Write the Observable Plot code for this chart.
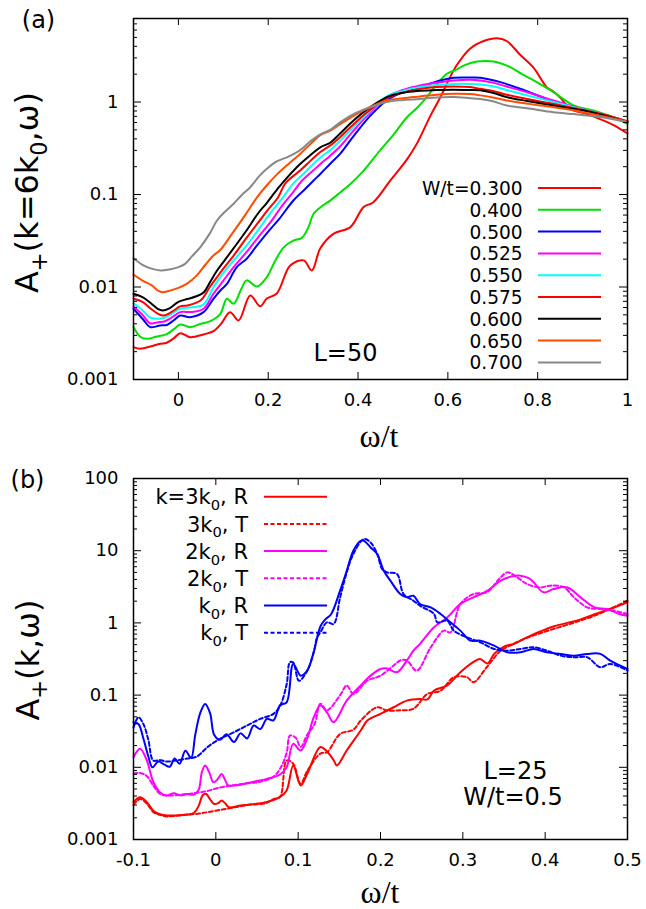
<!DOCTYPE html>
<html><head><meta charset="utf-8">
<script src="https://cdn.jsdelivr.net/npm/d3@7"></script>
<script src="https://cdn.jsdelivr.net/npm/@observablehq/plot@0.6"></script>
<style>
html,body{margin:0;padding:0;background:#fff;overflow:hidden;}
#wrap{width:646px;height:909px;}
#wrap svg{display:block;}
</style></head><body><div id="wrap"></div>
<script>
// ===== Panel (a): A+(k=6k0, ω) vs ω/t, L=50 =====
const x300 = [-0.1,-0.085,-0.06,-0.041,-0.026,-0.01,0.004,0.026,0.056,0.078,0.095,0.115,0.134,0.16,0.182,0.197,0.219,0.249,0.279,0.297,0.316,0.345,0.383,0.412,0.434,0.472,0.509,0.531,0.561,0.583,0.598,0.62,0.65,0.68,0.709,0.731,0.761,0.791,0.82,0.835,0.85,0.872,0.91,0.947,0.97,1.0];
const a300 = [0.00224,0.00215,0.00229,0.00243,0.0025,0.0028,0.00317,0.00287,0.00307,0.00333,0.004,0.00535,0.00435,0.0081,0.0062,0.0075,0.0085,0.0171,0.0194,0.0151,0.0263,0.0376,0.0444,0.073,0.0826,0.142,0.24,0.355,0.708,1.12,1.585,2.51,3.8,4.57,4.9,4.57,3.24,2.34,1.45,1.3,1.12,0.85,0.74,0.63,0.56,0.457];
const x400 = [-0.1,-0.085,-0.07,-0.05,-0.026,-0.01,0.004,0.026,0.05,0.071,0.093,0.108,0.123,0.14,0.152,0.175,0.197,0.215,0.235,0.256,0.275,0.29,0.301,0.32,0.338,0.36,0.383,0.412,0.449,0.48,0.509,0.53,0.553,0.575,0.598,0.62,0.635,0.665,0.702,0.739,0.765,0.791,0.835,0.88,0.924,0.969,1.0];
const a400 = [0.0037,0.0029,0.00275,0.0029,0.0031,0.0035,0.00394,0.00368,0.004,0.00428,0.0051,0.00746,0.00659,0.0095,0.0118,0.0101,0.0128,0.019,0.027,0.0318,0.034,0.045,0.062,0.075,0.086,0.105,0.13,0.18,0.3,0.45,0.685,0.85,1.13,1.55,2.02,2.25,2.48,2.74,2.74,2.38,2.0,1.71,1.28,0.92,0.81,0.685,0.58];
const x500 = [-0.1,-0.078,-0.063,-0.041,-0.026,-0.01,0.004,0.026,0.056,0.078,0.095,0.108,0.13,0.152,0.175,0.2,0.225,0.256,0.28,0.301,0.316,0.338,0.36,0.39,0.427,0.464,0.5,0.538,0.583,0.613,0.65,0.672,0.7,0.717,0.761,0.82,0.865,0.91,0.954,1.0];
const a500 = [0.00582,0.00443,0.00368,0.00384,0.00389,0.00437,0.00492,0.00472,0.00535,0.00746,0.00933,0.0108,0.0164,0.0202,0.0282,0.0398,0.055,0.0861,0.112,0.142,0.167,0.215,0.275,0.427,0.708,1.04,1.28,1.45,1.71,1.83,1.84,1.83,1.72,1.64,1.39,1.08,0.895,0.809,0.714,0.605];
const x525 = [-0.1,-0.08,-0.063,-0.045,-0.03,-0.015,0.004,0.03,0.056,0.078,0.1,0.123,0.152,0.178,0.208,0.231,0.256,0.275,0.3,0.316,0.338,0.36,0.39,0.42,0.464,0.5,0.538,0.575,0.613,0.65,0.672,0.7,0.731,0.78,0.835,0.88,0.91,0.95,1.0];
const a525 = [0.00617,0.00501,0.00406,0.00417,0.00427,0.00468,0.00535,0.00537,0.00582,0.00845,0.0117,0.0164,0.024,0.0347,0.0525,0.0759,0.107,0.141,0.182,0.214,0.263,0.331,0.49,0.708,1.13,1.35,1.51,1.62,1.71,1.74,1.71,1.62,1.47,1.26,1.04,0.891,0.813,0.724,0.617];
const x550 = [-0.1,-0.08,-0.063,-0.045,-0.03,-0.015,0.004,0.03,0.056,0.078,0.095,0.12,0.152,0.178,0.208,0.23,0.256,0.28,0.316,0.338,0.36,0.39,0.42,0.464,0.5,0.538,0.575,0.613,0.65,0.672,0.7,0.731,0.78,0.835,0.88,0.91,0.95,1.0];
const a550 = [0.00668,0.00562,0.00468,0.00453,0.00468,0.00513,0.00582,0.00603,0.00647,0.00995,0.0132,0.0186,0.0282,0.0417,0.0661,0.0891,0.132,0.17,0.251,0.302,0.38,0.537,0.741,1.15,1.32,1.45,1.53,1.57,1.57,1.55,1.48,1.35,1.17,1.0,0.881,0.813,0.724,0.617];
const x575 = [-0.1,-0.08,-0.063,-0.045,-0.033,-0.015,0.004,0.02,0.049,0.07,0.085,0.1,0.123,0.15,0.178,0.197,0.222,0.238,0.271,0.295,0.316,0.338,0.36,0.39,0.42,0.464,0.5,0.538,0.575,0.613,0.65,0.672,0.7,0.731,0.78,0.835,0.88,0.91,0.95,1.0];
const a575 = [0.00746,0.00692,0.00589,0.00513,0.00492,0.00537,0.00617,0.00631,0.00714,0.01,0.0126,0.0158,0.0219,0.0331,0.0501,0.0661,0.0933,0.132,0.182,0.234,0.288,0.339,0.417,0.575,0.776,1.10,1.26,1.38,1.45,1.47,1.45,1.39,1.32,1.20,1.07,0.955,0.861,0.804,0.724,0.617];
const x600 = [-0.1,-0.08,-0.06,-0.045,-0.035,-0.02,0.0,0.02,0.04,0.056,0.07,0.085,0.1,0.123,0.15,0.178,0.197,0.222,0.245,0.271,0.295,0.316,0.338,0.36,0.39,0.42,0.464,0.5,0.538,0.575,0.613,0.65,0.672,0.7,0.731,0.78,0.835,0.88,0.91,0.95,1.0];
const a600 = [0.00845,0.00776,0.0066,0.00575,0.00557,0.00589,0.00692,0.00741,0.00794,0.00871,0.0112,0.0148,0.0186,0.0263,0.0398,0.0631,0.0813,0.117,0.158,0.214,0.269,0.324,0.363,0.457,0.631,0.832,1.13,1.26,1.32,1.35,1.36,1.35,1.34,1.26,1.13,1.02,0.918,0.841,0.794,0.708,0.61];
const x650 = [-0.1,-0.08,-0.06,-0.045,-0.035,-0.02,0.0,0.02,0.04,0.06,0.078,0.093,0.12,0.149,0.175,0.197,0.22,0.245,0.271,0.295,0.316,0.338,0.36,0.39,0.42,0.464,0.5,0.538,0.575,0.613,0.65,0.672,0.7,0.731,0.78,0.835,0.88,0.91,0.95,1.0];
const a650 = [0.01365,0.01175,0.01047,0.00912,0.00879,0.00912,0.00977,0.01096,0.0132,0.0174,0.0219,0.0251,0.038,0.0603,0.0933,0.126,0.166,0.214,0.275,0.355,0.437,0.49,0.575,0.708,0.851,1.04,1.10,1.15,1.20,1.23,1.22,1.18,1.12,1.04,0.955,0.879,0.813,0.759,0.692,0.617];
const x700 = [-0.1,-0.08,-0.06,-0.04,-0.02,0.0,0.015,0.03,0.049,0.07,0.086,0.105,0.123,0.14,0.16,0.18,0.197,0.22,0.245,0.271,0.295,0.316,0.338,0.36,0.39,0.42,0.464,0.5,0.538,0.575,0.613,0.65,0.672,0.7,0.731,0.78,0.835,0.88,0.91,0.95,1.0];
const a700 = [0.0205,0.0174,0.0158,0.0151,0.0155,0.0164,0.0178,0.0214,0.027,0.038,0.0524,0.066,0.0794,0.0977,0.12,0.158,0.19,0.229,0.257,0.302,0.38,0.447,0.5,0.603,0.741,0.851,1.0,1.05,1.08,1.12,1.13,1.10,1.08,1.02,0.918,0.851,0.776,0.741,0.714,0.676,0.603];

const labelsA = ["W/t=0.300","0.400","0.500","0.525","0.550","0.575","0.600","0.650","0.700"];
const xTicksA = [0, 0.2, 0.4, 0.6, 0.8, 1];
const yTicksA = [0.001, 0.01, 0.1, 1];

// ===== Panel (b): A+(k, ω) vs ω/t, L=25, W/t=0.5 =====
const xk3R = [-0.1,-0.092,-0.084,-0.076,-0.068,-0.059,-0.04,-0.027,-0.021,-0.016,-0.012,-0.007,-0.002,0.003,0.007,0.011,0.016,0.03,0.046,0.062,0.078,0.086,0.094,0.103,0.111,0.127,0.135,0.143,0.147,0.159,0.176,0.184,0.2,0.216,0.232,0.248,0.257,0.265,0.281,0.297,0.313,0.321,0.33,0.338,0.35,0.362,0.378,0.394,0.41,0.427,0.443,0.46,0.48,0.5];
const ak3R = [0.00329,0.00386,0.00331,0.00251,0.00224,0.00215,0.00219,0.00232,0.0029,0.0041,0.0043,0.0036,0.0031,0.0032,0.00347,0.0032,0.0028,0.00295,0.00309,0.00331,0.00389,0.00479,0.0106,0.0056,0.00813,0.0191,0.0166,0.0126,0.0106,0.0171,0.0323,0.0444,0.055,0.0679,0.0839,0.0885,0.0871,0.116,0.136,0.207,0.288,0.316,0.275,0.372,0.468,0.513,0.631,0.759,0.891,1.0,1.12,1.32,1.58,1.93];
const xk3T = [-0.1,-0.092,-0.084,-0.076,-0.068,-0.059,-0.04,-0.02,0.0,0.02,0.04,0.06,0.07,0.078,0.086,0.094,0.103,0.111,0.127,0.135,0.151,0.167,0.176,0.196,0.208,0.224,0.24,0.257,0.273,0.289,0.305,0.313,0.329,0.346,0.36,0.375,0.4,0.42,0.44,0.46,0.48,0.5];
const ak3T = [0.00302,0.00363,0.00316,0.0024,0.00219,0.00209,0.00219,0.00229,0.00251,0.00275,0.00302,0.00316,0.00363,0.00389,0.0124,0.0112,0.0059,0.00891,0.0155,0.0162,0.029,0.0331,0.0444,0.0679,0.0611,0.0617,0.0646,0.104,0.115,0.177,0.177,0.151,0.243,0.413,0.501,0.603,0.759,0.891,1.05,1.26,1.58,2.04];
const xk2R = [-0.1,-0.092,-0.084,-0.076,-0.068,-0.06,-0.051,-0.043,-0.035,-0.027,-0.021,-0.017,-0.013,-0.008,-0.003,0.002,0.007,0.011,0.015,0.022,0.03,0.046,0.062,0.078,0.086,0.094,0.103,0.111,0.119,0.127,0.135,0.143,0.159,0.176,0.188,0.2,0.208,0.22,0.232,0.24,0.248,0.265,0.281,0.297,0.313,0.33,0.346,0.36,0.37,0.38,0.386,0.398,0.41,0.427,0.443,0.46,0.475,0.49,0.5];
const ak2R = [0.0138,0.018,0.0126,0.00631,0.00453,0.00407,0.00437,0.00407,0.00427,0.00417,0.0048,0.0085,0.0106,0.0085,0.0062,0.0068,0.0081,0.0068,0.0056,0.0056,0.00575,0.00631,0.00692,0.00794,0.01,0.0211,0.0171,0.0251,0.0494,0.0716,0.0575,0.0421,0.0839,0.136,0.186,0.23,0.234,0.207,0.301,0.413,0.513,0.869,1.19,1.83,2.26,2.79,3.85,4.42,4.51,4.17,3.65,2.65,2.94,3.1,2.26,1.64,1.56,1.33,1.26];
const xk2T = [-0.1,-0.092,-0.084,-0.076,-0.068,-0.06,-0.043,-0.027,-0.011,0.005,0.02,0.038,0.054,0.07,0.078,0.086,0.09,0.097,0.103,0.111,0.12,0.127,0.135,0.151,0.159,0.167,0.184,0.2,0.216,0.224,0.232,0.244,0.261,0.277,0.285,0.297,0.313,0.329,0.346,0.354,0.366,0.378,0.394,0.406,0.423,0.435,0.451,0.467,0.483,0.5];
const ak2T = [0.00813,0.00832,0.00759,0.00562,0.0043,0.00407,0.00417,0.00437,0.00468,0.00525,0.00562,0.00603,0.00631,0.00741,0.00955,0.0158,0.0275,0.0257,0.0191,0.0282,0.0398,0.0759,0.0617,0.1,0.136,0.104,0.158,0.186,0.257,0.302,0.302,0.218,0.459,0.782,0.741,1.83,2.51,2.65,4.28,5.01,4.28,3.46,3.1,3.28,3.1,2.26,1.64,1.56,1.48,1.33];
const xk1R = [-0.1,-0.094,-0.088,-0.082,-0.077,-0.07,-0.063,-0.056,-0.05,-0.044,-0.037,-0.03,-0.025,-0.019,-0.013,-0.007,-0.002,0.005,0.013,0.022,0.03,0.038,0.046,0.054,0.062,0.07,0.078,0.086,0.094,0.103,0.111,0.119,0.127,0.133,0.14,0.151,0.159,0.167,0.176,0.18,0.188,0.196,0.204,0.212,0.224,0.232,0.24,0.248,0.261,0.273,0.285,0.297,0.309,0.321,0.338,0.354,0.37,0.386,0.402,0.419,0.435,0.451,0.467,0.479,0.5];
const ak1R = [0.042,0.0398,0.0251,0.0141,0.01,0.012,0.011,0.0102,0.0132,0.0112,0.017,0.0135,0.0282,0.0562,0.0755,0.0562,0.0282,0.024,0.0288,0.0224,0.0295,0.0251,0.038,0.0339,0.0468,0.0447,0.0724,0.0794,0.27,0.186,0.218,0.398,0.891,1.12,1.32,2.82,5.25,10,13.7,13.7,11.1,9.0,5.28,3.85,2.51,2.26,2.38,1.83,1.64,1.33,1.02,0.782,0.568,0.568,0.484,0.392,0.392,0.436,0.392,0.372,0.352,0.372,0.372,0.301,0.231];
const xk1T = [-0.1,-0.094,-0.088,-0.082,-0.076,-0.068,-0.06,-0.051,-0.035,-0.023,-0.01,0.005,0.022,0.038,0.054,0.07,0.078,0.086,0.09,0.094,0.101,0.111,0.119,0.123,0.127,0.135,0.143,0.151,0.159,0.167,0.18,0.188,0.196,0.202,0.208,0.22,0.228,0.24,0.248,0.265,0.269,0.281,0.289,0.305,0.321,0.338,0.354,0.37,0.386,0.402,0.419,0.435,0.451,0.467,0.479,0.5];
const ak1T = [0.0355,0.0493,0.0398,0.024,0.0124,0.0126,0.012,0.0123,0.0132,0.0141,0.0191,0.0248,0.0306,0.038,0.0468,0.055,0.0708,0.141,0.285,0.282,0.158,0.218,0.398,0.631,0.741,1.02,0.966,2.26,5.01,9.0,14.5,13.0,9.0,5.57,5.01,4.75,2.51,2.03,1.73,1.33,1.02,1.07,0.782,0.631,0.54,0.436,0.413,0.436,0.459,0.413,0.352,0.334,0.334,0.243,0.27,0.219];

const labelsB = ["k=3k_{0}, R","3k_{0}, T","2k_{0}, R","2k_{0}, T","k_{0}, R","k_{0}, T"];
const xTicksB = [-0.1, 0, 0.1, 0.2, 0.3, 0.4, 0.5];
const yTicksB = [0.001, 0.01, 0.1, 1, 10, 100];

// ===== styles =====
const FONT = "DejaVu Sans, Liberation Sans, sans-serif";
const SERIF = "Liberation Serif, DejaVu Serif, serif";
const colorsA = ["#ff0000","#00e000","#0000ff","#ff00ff","#00ffff","#ff0000","#000000","#ff4d00","#888888"];
const colorsB = ["#ff0000","#ff0000","#ff00ff","#ff00ff","#0000ff","#0000ff"];
const dashB = [null,"4,2.5",null,"4,2.5",null,"4,2.5"];

const seriesA = [[x300,a300],[x400,a400],[x500,a500],[x525,a525],[x550,a550],[x575,a575],[x600,a600],[x650,a650],[x700,a700]];
const seriesB = [[xk3R,ak3R],[xk3T,ak3T],[xk2R,ak2R],[xk2T,ak2T],[xk1R,ak1R],[xk1T,ak1T]];

const rows = ([xs, ys]) => d3.zip(xs, ys).map(([x, y]) => ({x, y}));

function minorTicks(majors, max) {
  const out = [];
  for (const d of majors) for (let m = 2; m <= 9; m++) { const v = d * m; if (v <= max * 1.0001) out.push(v); }
  return out;
}

function boxTicks(xt, yMaj, yMin, W, H) {
  const s = {stroke: "black", strokeWidth: 1};
  return [
    Plot.tickX(xt, {x: d => d, insetTop: H - 7, ...s}),
    Plot.tickX(xt, {x: d => d, insetBottom: H - 7, ...s}),
    Plot.tickY(yMaj, {y: d => d, insetRight: W - 8, ...s}),
    Plot.tickY(yMaj, {y: d => d, insetLeft: W - 8, ...s}),
    Plot.tickY(yMin, {y: d => d, insetRight: W - 4, ...s}),
    Plot.tickY(yMin, {y: d => d, insetLeft: W - 4, ...s})
  ];
}

function rich(t, str, F) {
  const parts = str.split(/(_\{[^}]*\})/).filter(s => s.length);
  let shifted = false;
  for (const p of parts) {
    const sp = t.append("tspan");
    if (p.startsWith("_{")) {
      sp.text(p.slice(2, -1)).attr("font-size", 0.7 * F).attr("dy", shifted ? 0 : 0.28 * F);
      shifted = true;
    } else {
      sp.text(p).attr("dy", shifted ? -0.28 * F : 0);
      shifted = false;
    }
  }
}

function addText(svg, {x, y, text, size, anchor = "middle", family = FONT, rotate = 0}) {
  const t = d3.select(svg).append("text")
    .attr("font-family", family).attr("font-size", size).attr("text-anchor", anchor)
    .attr("fill", "black").attr("transform", `translate(${x},${y}) rotate(${rotate})`);
  rich(t, text, size);
}

const W = 494, H = 361;

// ----- plot (a)
const svgA = Plot.plot({
  width: 646, height: 455, marginLeft: 133, marginRight: 19, marginTop: 18, marginBottom: 76,
  x: {domain: [-0.1, 1]},
  y: {type: "log", domain: [0.001, 8]},
  style: {fontFamily: FONT, fontSize: "18px", color: "black", background: "white", overflow: "visible"},
  marks: [
    ...seriesA.map((s, i) => Plot.line(rows(s), {x: "x", y: "y", stroke: colorsA[i], strokeWidth: 2, curve: "catmull-rom"})),
    ...boxTicks(xTicksA, yTicksA, minorTicks(yTicksA, 8), W, H),
    Plot.axisX(xTicksA, {anchor: "bottom", tickSize: 0, tickPadding: 14, fontSize: 18, tickFormat: d => String(d), label: null}),
    Plot.axisY(yTicksA, {anchor: "left", tickSize: 0, tickPadding: 15, fontSize: 18, tickFormat: d => String(d), label: null}),
    Plot.frame({stroke: "black", strokeWidth: 1.5})
  ]
});

// ----- plot (b)
const svgB = Plot.plot({
  width: 646, height: 454, marginLeft: 133, marginRight: 19, marginTop: 23, marginBottom: 70,
  x: {domain: [-0.1, 0.5]},
  y: {type: "log", domain: [0.001, 100]},
  style: {fontFamily: FONT, fontSize: "18px", color: "black", background: "white", overflow: "visible"},
  marks: [
    ...seriesB.map((s, i) => Plot.line(rows(s), {x: "x", y: "y", stroke: colorsB[i], strokeWidth: 2, strokeDasharray: dashB[i], curve: "catmull-rom"})),
    ...boxTicks(xTicksB, yTicksB, minorTicks(yTicksB, 100), W, H),
    Plot.axisX(xTicksB, {anchor: "bottom", tickSize: 0, tickPadding: 14, fontSize: 18, tickFormat: d => String(d), label: null}),
    Plot.axisY(yTicksB, {anchor: "left", tickSize: 0, tickPadding: 15, fontSize: 18, tickFormat: d => String(d), label: null}),
    Plot.frame({stroke: "black", strokeWidth: 1.5})
  ]
});

// ----- annotations (a)
addText(svgA, {x: 38.5, y: 28, text: "(a)", size: 24});
addText(svgA, {x: 38, y: 192.5, text: "A_{+}(k=6k_{0},ω)", size: 32, rotate: -90});
addText(svgA, {x: 379, y: 447, text: "ω/t", size: 32, family: SERIF});
addText(svgA, {x: 345.5, y: 360.5, text: "L=50", size: 24});
labelsA.forEach((lab, i) => {
  const cy = 188 + i * 21.8;
  addText(svgA, {x: 522.7, y: cy + 7, text: lab, size: 18.6, anchor: "end"});
  d3.select(svgA).append("line").attr("x1", 538).attr("x2", 601).attr("y1", cy).attr("y2", cy)
    .attr("stroke", colorsA[i]).attr("stroke-width", 2);
});

// ----- annotations (b)
addText(svgB, {x: 27.5, y: 33, text: "(b)", size: 24});
addText(svgB, {x: 38.5, y: 205, text: "A_{+}(k,ω)", size: 32, rotate: -90});
addText(svgB, {x: 380, y: 448, text: "ω/t", size: 32, family: SERIF});
addText(svgB, {x: 515.5, y: 324.4, text: "L=25", size: 24});
addText(svgB, {x: 513, y: 350.4, text: "W/t=0.5", size: 24});
labelsB.forEach((lab, i) => {
  const cy = 41.7 + i * 27.2;
  addText(svgB, {x: 248, y: cy + 7.6, text: lab, size: 21, anchor: "end"});
  const ln = d3.select(svgB).append("line").attr("x1", 264).attr("x2", 327).attr("y1", cy).attr("y2", cy)
    .attr("stroke", colorsB[i]).attr("stroke-width", 2);
  if (dashB[i]) ln.attr("stroke-dasharray", dashB[i]);
});

const wrap = document.getElementById("wrap");
wrap.appendChild(svgA);
wrap.appendChild(svgB);
</script>
</body></html>
